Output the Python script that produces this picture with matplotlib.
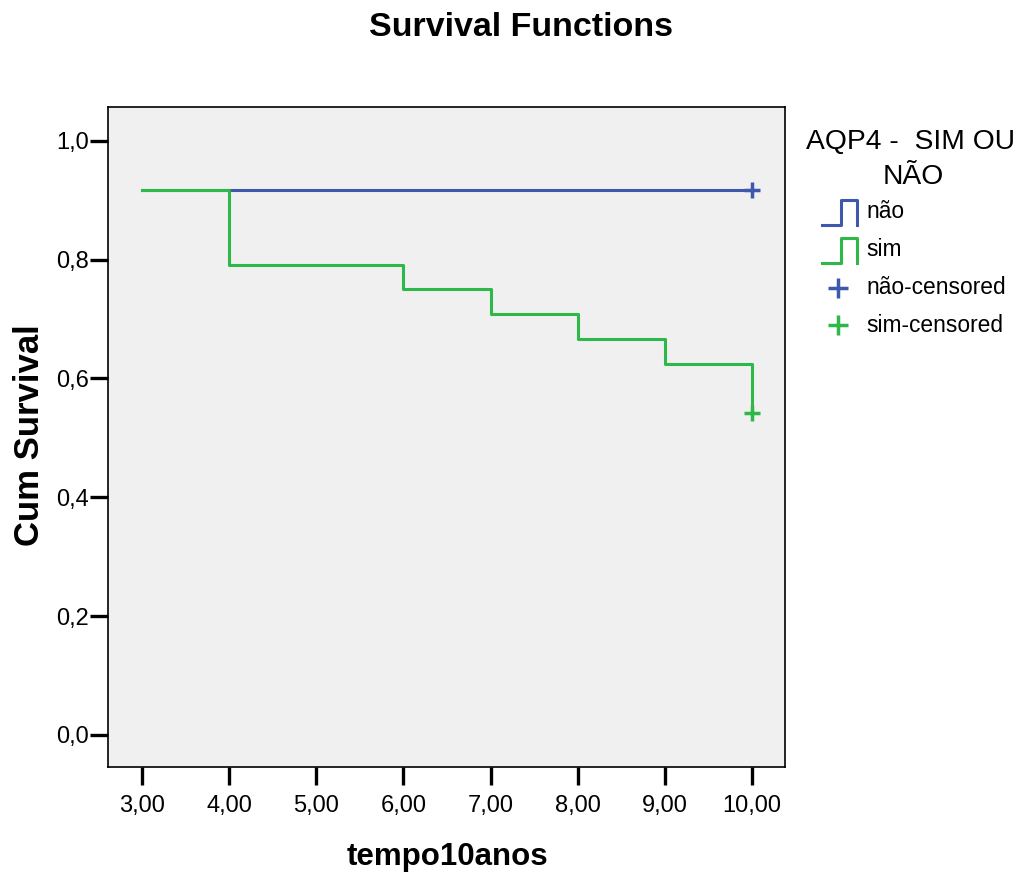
import matplotlib
matplotlib.use('Agg')
import matplotlib.pyplot as plt
from matplotlib.lines import Line2D

plt.rcParams['font.family'] = ['Liberation Sans', 'DejaVu Sans']

# data
nao_time = [3, 10]
nao_surv = [0.9167, 0.9167]
sim_time = [3, 4, 6, 7, 8, 9, 10]
sim_surv = [0.9167, 0.7917, 0.75, 0.7083, 0.6667, 0.625, 0.5417]
nao_cens_time = [10]
nao_cens_surv = [0.9167]
sim_cens_time = [10]
sim_cens_surv = [0.5417]
xticks = [3, 4, 5, 6, 7, 8, 9, 10]
yticks = [0.0, 0.2, 0.4, 0.6, 0.8, 1.0]
legend_labels = ['não', 'sim', 'não-censored', 'sim-censored']

blue = '#3e58ac'
green = '#2fb84a'

W, H = 1020, 875
fig = plt.figure(figsize=(W / 100, H / 100), dpi=100)
ax = fig.add_axes([108 / W, 1 - 767 / H, (785 - 108) / W, (767 - 107) / H])
ax.set_facecolor('#f0f0f0')

ax.step(nao_time, nao_surv, where='post', color=blue, lw=2.2)
ax.step(sim_time, sim_surv, where='post', color=green, lw=2.2)
ax.plot(nao_cens_time, nao_cens_surv, '+', color=blue, ms=12, mew=2.5)
ax.plot(sim_cens_time, sim_cens_surv, '+', color=green, ms=12, mew=2.5)

ax.set_xlim(2.61, 10.38)
ax.set_ylim(-0.054, 1.057)
ax.set_xticks(xticks)
ax.set_xticklabels([f'{v:.2f}'.replace('.', ',') for v in xticks])
ax.set_yticks(yticks)
ax.set_yticklabels([f'{v:.1f}'.replace('.', ',') for v in yticks])
ax.tick_params(direction='out', length=13, width=2.4, labelsize=17, pad=1)
ax.tick_params(axis='x', pad=7)
for s in ax.spines.values():
    s.set_linewidth(1.2)

fig.text(521 / W, 1 - 27 / H, 'Survival Functions', ha='center', va='center',
         fontsize=24.5, fontweight='bold')
fig.text(447 / W, 1 - 857 / H, 'tempo10anos', ha='center', va='center',
         fontsize=22.5, fontweight='bold')
fig.text(30 / W, 1 - 435 / H, 'Cum Survival', ha='center', va='center',
         rotation=90, fontsize=25, fontweight='bold')

# legend
fig.text(910 / W, 1 - 142 / H, 'AQP4 -  SIM OU', ha='center', va='center', fontsize=20.3)
fig.text(913 / W, 1 - 177 / H, 'NÃO', ha='center', va='center', fontsize=20.3)
rows = [212, 250, 288, 325]
for i, (lab, col) in enumerate(zip(legend_labels, [blue, green, blue, green])):
    y = rows[i]
    if i < 2:
        xs = [822, 841, 841, 857, 857]
        ys = [y + 13, y + 13, y - 12, y - 12, y + 13]
        fig.add_artist(Line2D([x / W for x in xs], [1 - v / H for v in ys],
                              transform=fig.transFigure, color=col, lw=2.2))
    else:
        fig.add_artist(Line2D([838 / W], [1 - y / H], transform=fig.transFigure,
                              marker='+', color=col, ms=14, mew=2.5, ls='none'))
    fig.text(866 / W, 1 - y / H, lab, ha='left', va='center', fontsize=16.4)

fig.savefig('out.png', dpi=100)
